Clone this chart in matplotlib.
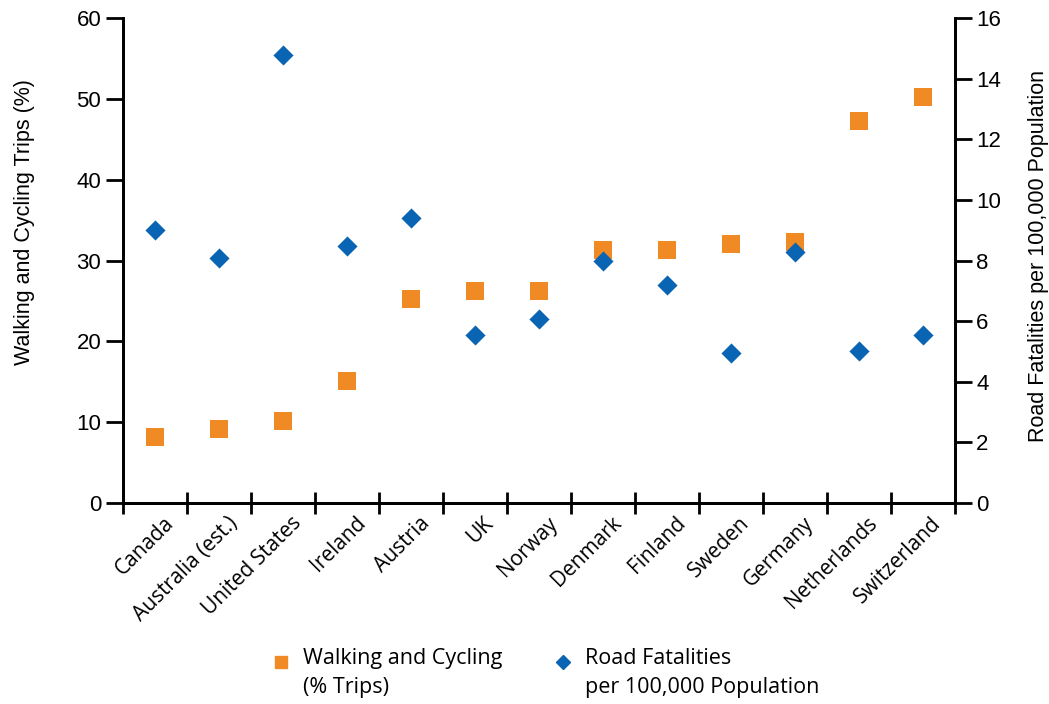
import matplotlib
matplotlib.use("Agg")
import matplotlib.pyplot as plt
import matplotlib.transforms as mtransforms
from matplotlib.lines import Line2D
import numpy as np

countries = ['Canada', 'Australia (est.)', 'United States', 'Ireland', 'Austria', 'UK',
             'Norway', 'Denmark', 'Finland', 'Sweden', 'Germany', 'Netherlands', 'Switzerland']
walk_cycle = [8.2, 9.2, 10.1, 15.1, 25.2, 26.3, 26.3, 31.3, 31.3, 32.1, 32.3, 47.3, 50.2]
fatalities = [9.0, 8.1, 14.8, 8.48, 9.4, 5.55, 6.08, 7.99, 7.2, 4.94, 8.27, 5.02, 5.55]

orange = '#F08A24'
blue = '#0A64B4'
plt.rcParams['font.family'] = ['Liberation Sans', 'DejaVu Sans']
cat_font = ['Open Sans', 'DejaVu Sans']

fig = plt.figure(figsize=(10.49, 7.04), dpi=100)
ax = fig.add_axes([0.117, 0.2855, 0.793, 0.6885])
ax2 = ax.twinx()

x = np.arange(len(countries))
ax.scatter(x, walk_cycle, marker='s', s=175, color=orange, linewidths=0, zorder=3)
ax2.scatter(x, fatalities, marker='D', s=105, color=blue, linewidths=0, zorder=3)

ax.set_xlim(-0.5, len(countries) - 0.5)
ax.set_ylim(0, 60)
ax2.set_ylim(0, 16)
ax.set_yticks(range(0, 61, 10))
ax2.set_yticks(range(0, 17, 2))

for a in (ax, ax2):
    a.spines['top'].set_visible(False)
    for s in ('left', 'right', 'bottom'):
        a.spines[s].set_linewidth(2)
        a.spines[s].set_color('black')

ax.set_xticks(x)
ax.set_xticklabels(countries, rotation=45, ha='right', rotation_mode='anchor',
                   fontsize=15, family=cat_font)
ax.tick_params(axis='x', which='major', length=0, pad=7)
shift = mtransforms.ScaledTranslation(6 / 72, 0, fig.dpi_scale_trans)
for lab in ax.get_xticklabels():
    lab.set_transform(lab.get_transform() + shift)
ax.set_xticks(np.arange(-0.5, len(countries)), minor=True)
ax.tick_params(axis='x', which='minor', direction='inout', length=16, width=2)

ax.tick_params(axis='y', direction='out', length=12, width=2, labelsize=16)
ax2.tick_params(axis='y', direction='out', length=12, width=2, labelsize=16)

ax.set_ylabel('Walking and Cycling Trips (%)', fontsize=15.5)
ax.yaxis.set_label_coords(-0.105, 0.58)
ax2.set_ylabel('Road Fatalities per 100,000 Population', fontsize=15.5)
ax2.yaxis.set_label_coords(1.088, 0.51)

# legend drawn by hand so the markers sit on the first text line
leg_items = [
    ('s', orange, 9, 281, 303, 'Walking and Cycling\n(% Trips)'),
    ('D', blue, 7.5, 563, 585, 'Road Fatalities\nper 100,000 Population'),
]
W, H = 1049, 704
for mk, col, ms, mx, tx, txt in leg_items:
    fig.add_artist(Line2D([mx / W], [1 - 662 / H], marker=mk, color=col, markersize=ms,
                          linestyle='none', transform=fig.transFigure))
    fig.text(tx / W, 1 - 648 / H, txt, fontsize=15.5, family=cat_font,
             va='top', ha='left', linespacing=1.5)

fig.savefig('out.png', dpi=100)
